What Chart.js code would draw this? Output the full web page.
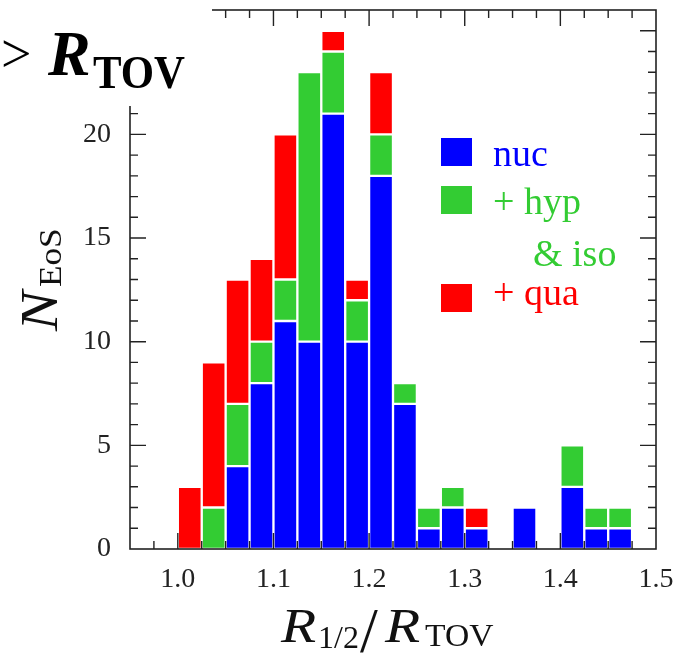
<!DOCTYPE html>
<html lang="en">
<head>
<meta charset="UTF-8">
<title>N_EoS vs R_1/2 / R_TOV</title>
<script src="https://cdn.jsdelivr.net/npm/chart.js@4.4.1/dist/chart.umd.min.js"></script>
<style>
    html, body { margin: 0; padding: 0; background: #fff; }
    #wrap { width: 675px; height: 657px; }
</style>
</head>
<body>
<div id="wrap"><canvas id="chart" width="675" height="657"></canvas></div>
<script>
// histogram bins (left edges), width 0.025
var binEdges = [1.000, 1.025, 1.050, 1.075, 1.100, 1.125, 1.150, 1.175, 1.200, 1.225,
                1.250, 1.275, 1.300, 1.325, 1.350, 1.375, 1.400, 1.425, 1.450];
var binWidth = 0.025;
// counts per bin, stacked nuc -> hyp & iso -> qua
var nuc = [0, 0, 4, 8, 11, 10, 21, 10, 18, 7, 1, 2, 1, 0, 2, 0, 3, 1, 1];
var hyp = [0, 2, 3, 2,  2, 13,  3,  2,  2, 1, 1, 1, 0, 0, 0, 0, 2, 1, 1];
var qua = [3, 7, 6, 4,  7,  0,  1,  1,  3, 0, 0, 0, 1, 0, 0, 0, 0, 0, 0];

var seriesNames = ['nuc', '+ hyp', '+ qua'];
var seriesColors = ['#0000ff', '#33cc33', '#ff0000'];
var xTickVals = [1.0, 1.1, 1.2, 1.3, 1.4, 1.5];
var yTickVals = [0, 5, 10, 15, 20];

var FONT = "'Liberation Serif', 'Times New Roman', serif";
var INK = '#222';

function toPoints(arr) {
    return binEdges.map(function (e, i) {
        return { x: e + binWidth / 2, y: arr[i] === 0 ? null : arr[i] };
    });
}

// text stretched sideways a little, the original uses wider TeX glyphs
function wideText(ctx, t, x, y, sx) {
    ctx.save();
    ctx.translate(x, y);
    ctx.scale(sx, 1);
    ctx.fillText(t, 0, 0);
    ctx.restore();
}

var framePlugin = {
    id: 'frame',
    afterDraw: function (chart) {
        var ctx = chart.ctx, a = chart.chartArea;
        var xs = chart.scales.x, ys = chart.scales.y;
        ctx.save();
        ctx.strokeStyle = INK;
        ctx.lineWidth = 1.6;
        ctx.strokeRect(a.left, a.top, a.right - a.left, a.bottom - a.top);

        // inward ticks on all four sides
        ctx.lineWidth = 1.4;
        ctx.beginPath();
        for (var i = 1; ; i++) {
            var v = xs.min + i * binWidth;
            if (v > xs.max - 1e-6) break;
            var px = xs.getPixelForValue(v);
            var major = Math.abs(v * 10 - Math.round(v * 10)) < 1e-6;
            var len = major ? 16 : 8;
            ctx.moveTo(px, a.bottom); ctx.lineTo(px, a.bottom - len);
            ctx.moveTo(px, a.top); ctx.lineTo(px, a.top + len);
        }
        for (var j = 1; j < ys.max; j++) {
            var py = ys.getPixelForValue(j);
            var l2 = (j % 5 === 0) ? 16 : 8;
            ctx.moveTo(a.left, py); ctx.lineTo(a.left + l2, py);
            ctx.moveTo(a.right, py); ctx.lineTo(a.right - l2, py);
        }
        ctx.stroke();

        // legend
        var rows = [
            { y: 166, lines: [seriesNames[0]] },
            { y: 214, lines: [seriesNames[1], '& iso'] },
            { y: 312, lines: [seriesNames[2]] }
        ];
        ctx.font = '38px ' + FONT;
        ctx.textBaseline = 'alphabetic';
        ctx.textAlign = 'left';
        rows.forEach(function (r, k) {
            ctx.fillStyle = seriesColors[k];
            ctx.fillRect(441, r.y - 28, 31, 28);
            ctx.fillText(r.lines[0], 493, r.y - (k === 2 ? 7 : 0));
            if (r.lines[1]) ctx.fillText(r.lines[1], 533, r.y + 52);
        });

        // x axis title  R_{1/2} / R_TOV
        ctx.fillStyle = '#111';
        ctx.font = 'italic 48px ' + FONT;
        wideText(ctx, 'R', 281, 642, 1.2);
        ctx.font = '32px ' + FONT;
        ctx.fillText('1/2', 318, 648);
        ctx.font = '64px ' + FONT;
        ctx.fillText('/', 360, 652);
        ctx.font = 'italic 48px ' + FONT;
        wideText(ctx, 'R', 385, 642, 1.2);
        ctx.font = '32px ' + FONT;
        wideText(ctx, 'TOV', 425, 646, 1.05);

        // y axis title  N_EoS (rotated)
        ctx.save();
        ctx.translate(57, 329);
        ctx.rotate(-Math.PI / 2);
        ctx.font = 'italic 52px ' + FONT;
        wideText(ctx, 'N', -2, 0, 1.15);
        ctx.font = '32px ' + FONT;
        wideText(ctx, 'EoS', 42, 4, 1.1);
        ctx.restore();

        // overlay label from slide: > R_TOV
        ctx.fillStyle = '#fff';
        ctx.fillRect(0, 0, 212, 106);
        ctx.fillStyle = '#000';
        ctx.font = '54px ' + FONT;
        ctx.fillText('>', 1, 72);
        ctx.font = 'bold italic 64px ' + FONT;
        ctx.fillText('R', 48, 75);
        ctx.font = 'bold 47px ' + FONT;
        ctx.fillText('TOV', 93, 88, 92);
        ctx.restore();
    }
};

var ctx = document.getElementById('chart').getContext('2d');
var chart = new Chart(ctx, {
    type: 'bar',
    data: {
        datasets: [
            { label: 'nuc', data: toPoints(nuc), backgroundColor: seriesColors[0] },
            { label: '+ hyp & iso', data: toPoints(hyp), backgroundColor: seriesColors[1] },
            { label: '+ qua', data: toPoints(qua), backgroundColor: seriesColors[2] }
        ]
    },
    options: {
        responsive: false,
        animation: false,
        devicePixelRatio: 1,
        layout: { padding: { top: 10, right: 19, left: 0, bottom: 0 } },
        plugins: { legend: { display: false }, tooltip: { enabled: false } },
        datasets: {
            bar: {
                barPercentage: 1,
                categoryPercentage: 1,
                borderWidth: 1.5,
                borderColor: '#ffffff',
                borderSkipped: false
            }
        },
        scales: {
            x: {
                type: 'linear',
                stacked: true,
                offset: false,
                min: 0.95,
                max: 1.5,
                grid: { display: false, drawTicks: false },
                border: { display: false },
                afterBuildTicks: function (s) {
                    s.ticks = xTickVals.map(function (v) { return { value: v }; });
                },
                afterFit: function (s) {
                    s.height = 108;
                    s.paddingLeft = 0;
                    s.paddingRight = 0;
                },
                ticks: {
                    autoSkip: false,
                    maxRotation: 0,
                    padding: 14,
                    color: INK,
                    font: { family: FONT, size: 28 },
                    callback: function (v) { return Number(v).toFixed(1); }
                }
            },
            y: {
                type: 'linear',
                stacked: true,
                min: 0,
                max: 26,
                grid: { display: false, drawTicks: false },
                border: { display: false },
                afterBuildTicks: function (s) {
                    s.ticks = yTickVals.map(function (v) { return { value: v }; });
                },
                afterFit: function (s) {
                    s.width = 130;
                    s.paddingTop = 0;
                    s.paddingBottom = 0;
                },
                ticks: {
                    padding: 19,
                    color: INK,
                    font: { family: FONT, size: 28 }
                }
            }
        }
    },
    plugins: [framePlugin]
});
</script>
</body>
</html>
